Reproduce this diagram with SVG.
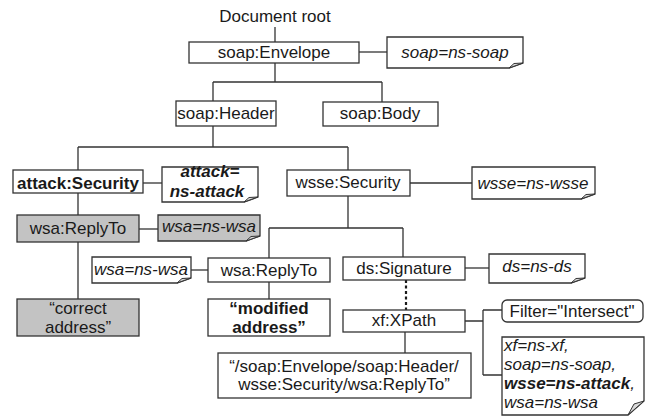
<svg xmlns="http://www.w3.org/2000/svg" width="654" height="420" viewBox="0 0 654 420">
  <style>
    text { font-family: "Liberation Sans", Arial, sans-serif; font-size: 17px; fill: #1a1a1a; text-anchor: middle; }
    .it { font-style: italic; }
    .b { font-weight: bold; }
    .l { text-anchor: start; }
    .box { fill: #ffffff; stroke: #333333; stroke-width: 1.3; }
    .grey { fill: #c3c3c3; }
    .fold { fill: #d9d9d9; stroke: #333333; stroke-width: 1; }
    .wire { fill: none; stroke: #333333; stroke-width: 1.3; }
    .dots { fill: none; stroke: #1a1a1a; stroke-width: 2.2; stroke-dasharray: 3 2.5; }
  </style>

  <!-- connectors -->
  <g id="connectors">
    <path class="wire" d="M275 27V42"/>
    <path class="wire" d="M359 52H387"/>
    <path class="wire" d="M275 63V82M213 82H382M213 82V101M382 82V102"/>
    <path class="wire" d="M213 126V147M78 147H348M78 147V170M348 147V170"/>
    <path class="wire" d="M143 183H162"/>
    <path class="wire" d="M78 193V215M78 242V299"/>
    <path class="wire" d="M139 229H158"/>
    <path class="wire" d="M410 183H472"/>
    <path class="wire" d="M348 196V228M269 228H403M269 228V258M403 228V257"/>
    <path class="wire" d="M191 270H208"/>
    <path class="wire" d="M269 282V299"/>
    <path class="wire" d="M465 268H489"/>
    <path class="dots" d="M406 280V310"/>
    <path class="wire" d="M405 332V353"/>
    <path class="wire" d="M465 321H483M483 310V375M483 310H502M483 375H502"/>
  </g>

  <text id="root" x="275" y="22">Document root</text>

  <g id="soap-envelope">
    <rect class="box" x="189" y="42" width="170" height="21"/>
    <text x="274" y="58">soap:Envelope</text>
  </g>
  <g id="ns-soap-note">
    <path class="box" d="M387 37H523V63L509 68H387Z"/>
    <path class="fold" d="M509 68L514 63.5L523 63Z"/>
    <text class="it" x="455" y="58">soap=ns-soap</text>
  </g>

  <g id="soap-header">
    <rect class="box" x="176" y="101" width="100" height="25"/>
    <text x="226" y="119">soap:Header</text>
  </g>
  <g id="soap-body">
    <rect class="box" x="323" y="102" width="115" height="24"/>
    <text x="380" y="119">soap:Body</text>
  </g>

  <g id="attack-security">
    <rect class="box" x="13" y="170" width="130" height="23"/>
    <text class="b" x="78" y="189">attack:Security</text>
  </g>
  <g id="ns-attack-note">
    <path class="box" d="M162 167H258V197L244 202H162Z"/>
    <path class="fold" d="M244 202L249 197.5L258 197Z"/>
    <text class="b it" x="210" y="177">attack=</text>
    <text class="b it" x="207" y="197">ns-attack</text>
  </g>

  <g id="wsa-replyto-original">
    <rect class="box grey" x="17" y="215" width="122" height="27"/>
    <text x="78" y="234">wsa:ReplyTo</text>
  </g>
  <g id="ns-wsa-note-original">
    <path class="box grey" d="M158 215H260V236L246 241H158Z"/>
    <path class="fold" d="M246 241L251 236.5L260 236Z"/>
    <text class="it" x="209" y="232">wsa=ns-wsa</text>
  </g>
  <g id="correct-address">
    <rect class="box grey" x="17" y="299" width="122" height="37"/>
    <text x="78" y="314">“correct</text>
    <text x="78" y="333">address”</text>
  </g>

  <g id="wsse-security">
    <rect class="box" x="287" y="170" width="123" height="26"/>
    <text x="348" y="188">wsse:Security</text>
  </g>
  <g id="ns-wsse-note">
    <path class="box" d="M472 167H595V194L581 199H472Z"/>
    <path class="fold" d="M581 199L586 194.5L595 194Z"/>
    <text class="it" x="533" y="189">wsse=ns-wsse</text>
  </g>

  <g id="ns-wsa-note-moved">
    <path class="box" d="M92 257H191V278L177 283H92Z"/>
    <path class="fold" d="M177 283L182 278.5L191 278Z"/>
    <text class="it" x="141" y="275">wsa=ns-wsa</text>
  </g>
  <g id="wsa-replyto-moved">
    <rect class="box" x="208" y="258" width="122" height="24"/>
    <text x="269" y="276">wsa:ReplyTo</text>
  </g>
  <g id="modified-address">
    <rect class="box" x="208" y="299" width="122" height="37"/>
    <text class="b" x="269" y="314">“modified</text>
    <text class="b" x="269" y="333">address”</text>
  </g>

  <g id="ds-signature">
    <rect class="box" x="343" y="257" width="122" height="23"/>
    <text x="404" y="274">ds:Signature</text>
  </g>
  <g id="ns-ds-note">
    <path class="box" d="M489 254H585V278L571 283H489Z"/>
    <path class="fold" d="M571 283L576 278.5L585 278Z"/>
    <text class="it" x="537" y="272">ds=ns-ds</text>
  </g>

  <g id="xf-xpath">
    <rect class="box" x="343" y="310" width="122" height="22"/>
    <text x="404" y="326">xf:XPath</text>
  </g>
  <g id="xpath-expression">
    <rect class="box" x="218" y="353" width="253" height="45"/>
    <text x="344" y="372">“/soap:Envelope/soap:Header/</text>
    <text x="344" y="390">wsse:Security/wsa:ReplyTo”</text>
  </g>

  <g id="filter-attr">
    <rect class="box" x="502" y="300" width="141" height="22" rx="5"/>
    <text x="572" y="317">Filter="Intersect"</text>
  </g>
  <g id="xpath-ns-note">
    <path class="box" d="M502 337H644V401L628 415H502Z"/>
    <path class="fold" d="M628 415L634 404L644 401Z"/>
    <text class="it l" x="504" y="351">xf=ns-xf,</text>
    <text class="it l" x="504" y="370">soap=ns-soap,</text>
    <text class="l" x="504" y="389"><tspan class="b it">wsse=ns-attack</tspan><tspan class="it">,</tspan></text>
    <text class="it l" x="504" y="408">wsa=ns-wsa</text>
  </g>
</svg>
